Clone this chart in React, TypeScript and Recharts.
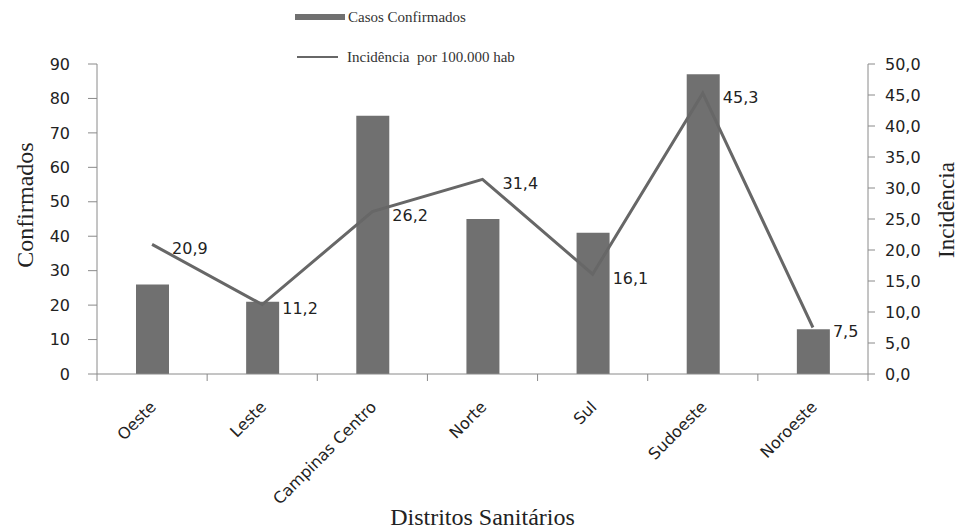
import React from "react";
import {
  ComposedChart,
  Bar,
  Line,
  XAxis,
  YAxis,
  LabelList,
} from "recharts";

const districts = ["Oeste", "Leste", "Campinas Centro", "Norte", "Sul", "Sudoeste", "Noroeste"];
const confirmed = [26, 21, 75, 45, 41, 87, 13];
const incidence = [20.9, 11.2, 26.2, 31.4, 16.1, 45.3, 7.5];
const leftTicks = [0, 10, 20, 30, 40, 50, 60, 70, 80, 90];
const rightTicks = [0, 5, 10, 15, 20, 25, 30, 35, 40, 45, 50];
const seriesNames = ["Casos Confirmados", "Incidência\u00a0 por 100.000 hab"];

const data = districts.map((d, i) => ({
  name: d,
  casos: confirmed[i],
  inc: incidence[i],
}));

const SANS = "'DejaVu Sans', 'Open Sans', sans-serif";
const SERIF = "'Liberation Serif', 'DejaVu Serif', serif";
const AXIS = "#8a8a8a";
const BAR = "#707070";
const LINE = "#676767";

const fmt1 = (v: number) => v.toFixed(1).replace(".", ",");

const XTick = (props: any) => {
  const { x, y, payload, index, visibleTicksCount, width } = props;
  const half = width / (2 * visibleTicksCount);
  const isLast = index === visibleTicksCount - 1;
  const tx = x + 5;
  const ty = y + 34;
  return (
    <g>
      <line x1={x - half} x2={x - half} y1={y} y2={y + 7} stroke={AXIS} strokeWidth={1} />
      {isLast && <line x1={x + half} x2={x + half} y1={y} y2={y + 7} stroke={AXIS} strokeWidth={1} />}
      <text
        x={tx}
        y={ty}
        textAnchor="end"
        transform={`rotate(-45, ${tx}, ${ty})`}
        fontFamily={SANS}
        fontSize={16}
        fill="#222"
      >
        {payload.value}
      </text>
    </g>
  );
};

const LineLabel = (props: any) => {
  const { x, y, value } = props;
  return (
    <text x={x + 20} y={y + 5} fontFamily={SANS} fontSize={16} fill="#222" dominantBaseline="middle">
      {fmt1(value)}
    </text>
  );
};

const LegendBox = () => (
  <div
    style={{
      position: "absolute",
      left: 0,
      top: 0,
      fontFamily: SERIF,
      fontSize: 15,
      color: "#333",
      whiteSpace: "nowrap",
      zIndex: 2,
    }}
  >
    <div style={{ position: "absolute", left: 295, top: 7, height: 20, display: "flex", alignItems: "center" }}>
      <span style={{ display: "inline-block", width: 50, height: 6, background: BAR, marginRight: 3 }} />
      <span>{seriesNames[0]}</span>
    </div>
    <div style={{ position: "absolute", left: 297, top: 47, height: 20, display: "flex", alignItems: "center" }}>
      <span style={{ display: "inline-block", width: 41, height: 1.5, background: LINE, marginRight: 9 }} />
      <span>{seriesNames[1]}</span>
    </div>
  </div>
);

export default function App() {
  return (
    <div style={{ position: "absolute", left: 0, top: 0, width: 958, height: 529, background: "#fff" }}>
      <LegendBox />
      <ComposedChart
        width={958}
        height={529}
        data={data}
        margin={{ top: 64, right: 0, left: 0, bottom: 0 }}
        barCategoryGap={0}
      >
        <XAxis
          dataKey="name"
          xAxisId="x"
          height={155}
          stroke={AXIS}
          tickLine={false}
          tickSize={0}
          tickMargin={0}
          tick={<XTick />}
          interval={0}
          label={{
            value: "Distritos Sanitários",
            position: "insideBottom",
            offset: 4,
            style: { fontFamily: SERIF, fontSize: 24, fill: "#222" },
          }}
        />
        <YAxis
          yAxisId="left"
          orientation="left"
          width={97}
          domain={[0, 90]}
          ticks={leftTicks}
          interval={0}
          stroke={AXIS}
          tickSize={9}
          tickMargin={18}
          tick={{ fontFamily: SANS, fontSize: 16, fill: "#222" }}
          label={{
            value: "Confirmados",
            angle: -90,
            position: "insideLeft",
            offset: 24,
            dy: -14,
            style: { fontFamily: SERIF, fontSize: 24, fill: "#222", textAnchor: "middle" },
          }}
        />
        <YAxis
          yAxisId="right"
          orientation="right"
          width={90}
          domain={[0, 50]}
          ticks={rightTicks}
          interval={0}
          stroke={AXIS}
          tickSize={7}
          tickMargin={10}
          tickFormatter={fmt1}
          tick={{ fontFamily: SANS, fontSize: 16, fill: "#222" }}
          label={{
            value: "Incidência",
            angle: -90,
            position: "insideRight",
            offset: 12,
            dy: -9,
            style: { fontFamily: SERIF, fontSize: 23, fill: "#222", textAnchor: "middle" },
          }}
        />
        <Bar
          xAxisId="x"
          yAxisId="left"
          dataKey="casos"
          name={seriesNames[0]}
          fill={BAR}
          barSize={33}
          isAnimationActive={false}
        />
        <Line
          xAxisId="x"
          yAxisId="right"
          dataKey="inc"
          name={seriesNames[1]}
          stroke={LINE}
          strokeWidth={3}
          dot={false}
          type="linear"
          isAnimationActive={false}
        >
          <LabelList dataKey="inc" content={<LineLabel />} />
        </Line>
      </ComposedChart>
    </div>
  );
}
